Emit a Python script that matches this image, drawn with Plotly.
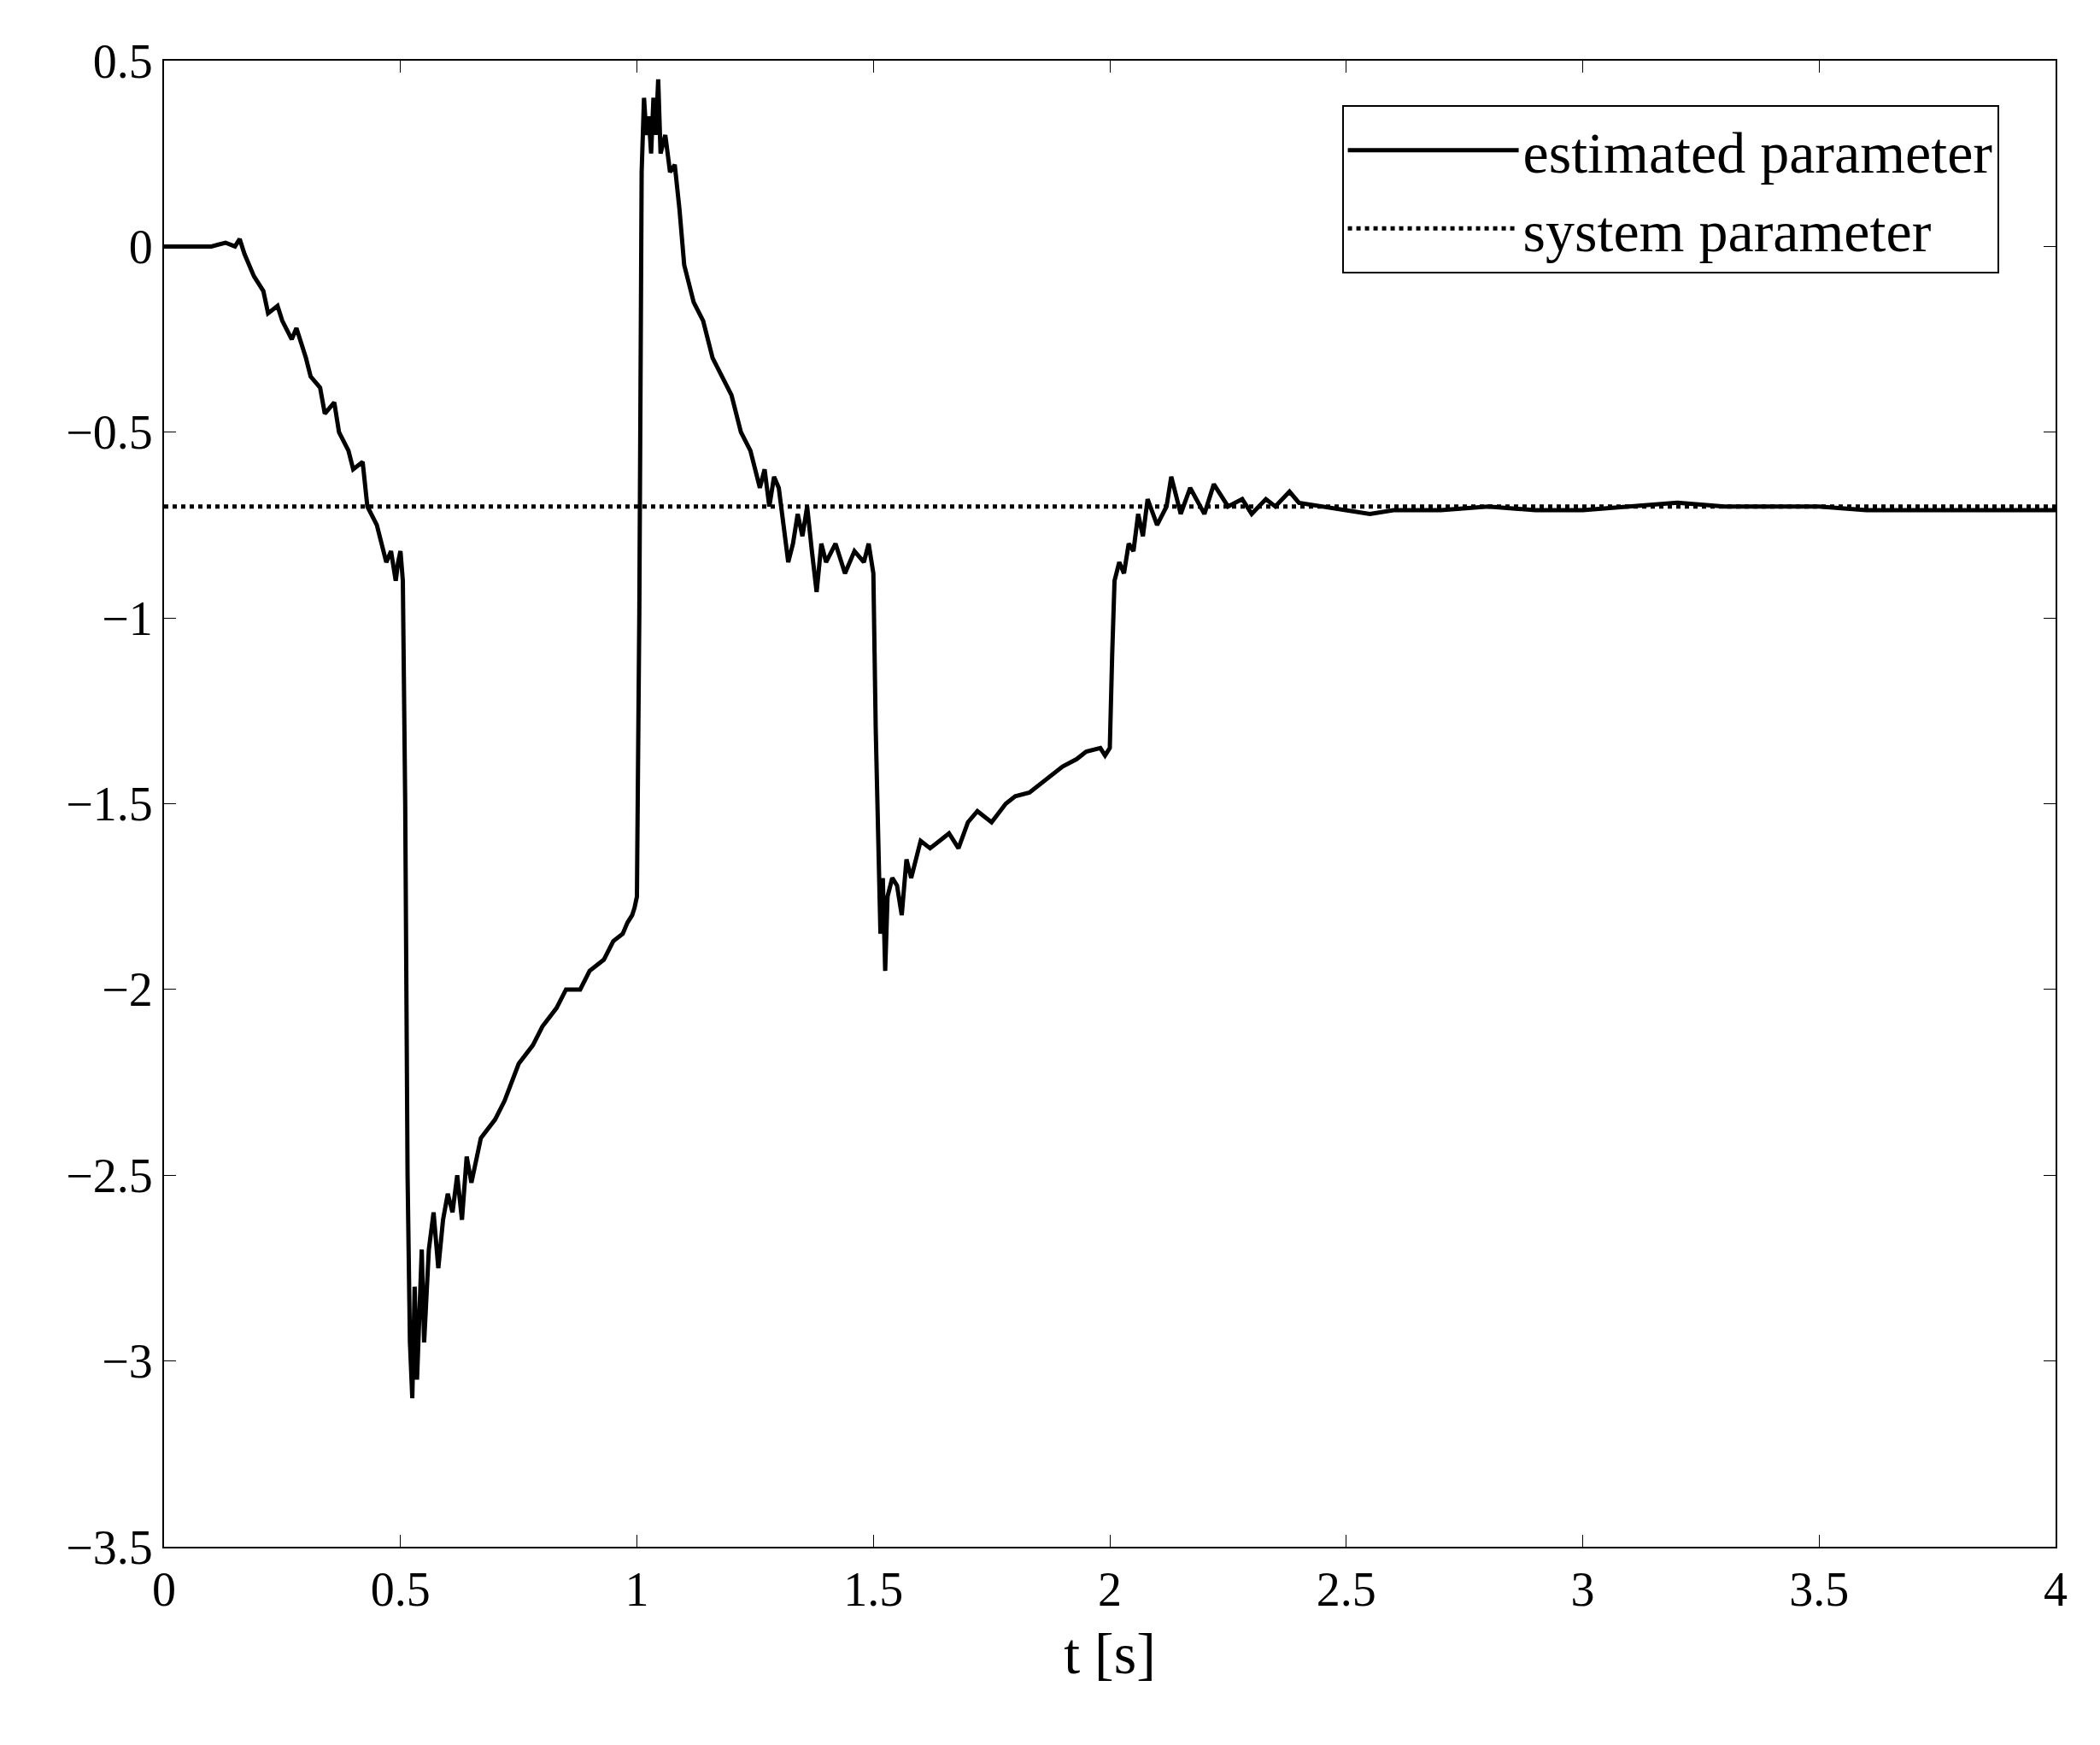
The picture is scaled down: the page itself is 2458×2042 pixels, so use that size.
import plotly.graph_objects as go

# estimated parameter
t_est = [0, 0.05, 0.1, 0.13, 0.15, 0.16, 0.17, 0.19, 0.21, 0.22, 0.24, 0.25, 0.27, 0.28, 0.3, 0.31,
         0.33, 0.34, 0.36, 0.37, 0.39, 0.4, 0.42, 0.43, 0.45, 0.46, 0.47, 0.48, 0.49, 0.495, 0.5,
         0.505, 0.51, 0.515, 0.52, 0.525, 0.53, 0.535, 0.54, 0.545, 0.55, 0.56, 0.57, 0.58, 0.59,
         0.6, 0.61, 0.62, 0.63, 0.64, 0.65, 0.67, 0.7, 0.72, 0.75, 0.78, 0.8, 0.83, 0.85, 0.88,
         0.9, 0.93, 0.95, 0.97, 0.98, 0.99, 0.995, 1.0, 1.005, 1.01, 1.015, 1.02, 1.025, 1.03,
         1.035, 1.04, 1.045, 1.05, 1.06, 1.07, 1.08, 1.09, 1.1, 1.12, 1.14, 1.16, 1.18, 1.2, 1.21,
         1.22, 1.24, 1.25, 1.26, 1.27, 1.28, 1.29, 1.3, 1.31, 1.32, 1.33, 1.34, 1.35, 1.36, 1.37,
         1.38, 1.39, 1.4, 1.42, 1.44, 1.46, 1.48, 1.49, 1.495, 1.5, 1.505, 1.51, 1.515, 1.52,
         1.525, 1.53, 1.54, 1.55, 1.56, 1.57, 1.58, 1.6, 1.62, 1.64, 1.66, 1.68, 1.7, 1.72, 1.75,
         1.78, 1.8, 1.83, 1.85, 1.88, 1.9, 1.93, 1.95, 1.98, 1.99, 1.995, 2.0, 2.005, 2.01, 2.02,
         2.03, 2.04, 2.05, 2.06, 2.07, 2.08, 2.1, 2.12, 2.13, 2.15, 2.17, 2.2, 2.22, 2.25, 2.28,
         2.3, 2.33, 2.35, 2.38, 2.4, 2.45, 2.5, 2.55, 2.6, 2.7, 2.8, 2.9, 3.0, 3.1, 3.2, 3.3, 3.4,
         3.5, 3.6, 3.7, 3.8, 3.9, 4.0]
y_est = [0, 0, 0, 0.01, 0, 0.02, -0.02, -0.08, -0.12, -0.18, -0.16, -0.2, -0.25, -0.22, -0.3, -0.35,
         -0.38, -0.45, -0.42, -0.5, -0.55, -0.6, -0.58, -0.7, -0.75, -0.8, -0.85, -0.82, -0.9, -0.85, -0.82,
         -0.9, -1.5, -2.5, -2.95, -3.1, -2.8, -3.05, -2.85, -2.7, -2.95, -2.7, -2.6, -2.75, -2.62,
         -2.55, -2.6, -2.5, -2.62, -2.45, -2.52, -2.4, -2.35, -2.3, -2.2, -2.15, -2.1, -2.05, -2.0, -2.0,
         -1.95, -1.92, -1.87, -1.85, -1.82, -1.8, -1.78, -1.75, -1.0, 0.2, 0.4, 0.3, 0.35, 0.25,
         0.4, 0.3, 0.45, 0.25, 0.3, 0.2, 0.22, 0.1, -0.05, -0.15, -0.2, -0.3, -0.35, -0.4, -0.45,
         -0.5, -0.55, -0.6, -0.65, -0.6, -0.7, -0.62, -0.65, -0.75, -0.85, -0.8, -0.72, -0.78, -0.7, -0.82,
         -0.93, -0.8, -0.85, -0.8, -0.88, -0.82, -0.85, -0.8, -0.85, -0.88, -1.3, -1.65, -1.85, -1.7,
         -1.95, -1.75, -1.7, -1.72, -1.8, -1.65, -1.7, -1.6, -1.62, -1.6, -1.58, -1.62, -1.55, -1.52, -1.55,
         -1.5, -1.48, -1.47, -1.45, -1.42, -1.4, -1.38, -1.36, -1.35, -1.37, -1.36, -1.35, -1.1, -0.9, -0.85,
         -0.88, -0.8, -0.82, -0.72, -0.78, -0.68, -0.75, -0.7, -0.62, -0.72, -0.65, -0.72, -0.64, -0.7, -0.68,
         -0.72, -0.68, -0.7, -0.66, -0.69, -0.7, -0.71, -0.72, -0.71, -0.71, -0.7, -0.71, -0.71, -0.7, -0.69, -0.7,
         -0.7, -0.7, -0.71, -0.71, -0.71, -0.71, -0.71]

t_sys = [0, 4]
y_sys = [-0.7, -0.7]

fig = go.Figure()
fig.add_trace(go.Scatter(x=t_est, y=y_est, mode='lines', name='estimated parameter',
                         line=dict(color='black', width=5)))
fig.add_trace(go.Scatter(x=t_sys, y=y_sys, mode='lines', name='system parameter',
                         line=dict(color='black', width=5, dash='dot')))

axis = dict(showgrid=False, zeroline=False, showline=True, linecolor='black', linewidth=2,
            mirror='ticks', ticks='inside', ticklen=14, tickcolor='black',
            tickfont=dict(size=56, color='black'))
fig.update_layout(
    width=2458, height=2042,
    plot_bgcolor='white', paper_bgcolor='white',
    font=dict(family='Liberation Serif', color='black'),
    margin=dict(l=184, r=60, t=63, b=240),
    xaxis=dict(range=[0, 4], dtick=0.5, title=dict(text='t [s]', font=dict(size=68), standoff=20), **axis),
    yaxis=dict(range=[-3.5, 0.5], dtick=0.5, **axis),
    legend=dict(x=0.97, y=0.97, xanchor='right', yanchor='top', bgcolor='white',
                bordercolor='black', borderwidth=2, font=dict(size=68), itemwidth=200),
)
fig.write_html("out.html")
